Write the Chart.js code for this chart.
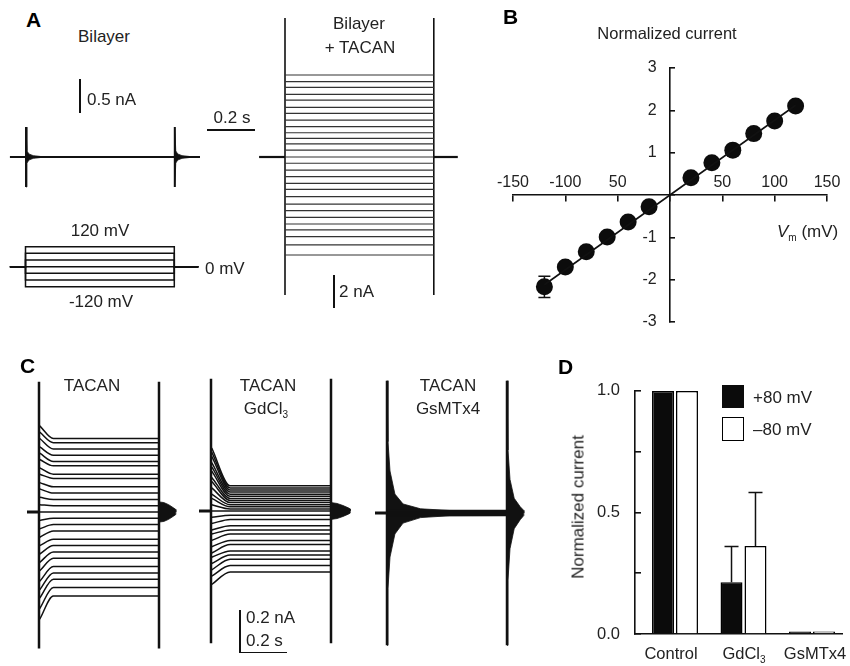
<!DOCTYPE html>
<html>
<head>
<meta charset="utf-8">
<script src="https://cdn.jsdelivr.net/npm/chart.js@4.4.1/dist/chart.umd.min.js"></script>
<style>
  body { margin: 0; background: #fff; }
  #fig { position: relative; width: 850px; height: 666px; overflow: hidden;
         font-family: "Liberation Sans", Arial, Helvetica, sans-serif; color: #222; }
  canvas { position: absolute; }
  .t { position: absolute; white-space: nowrap; font-size: 17px; line-height: 1; }
  .c { transform: translate(-50%, -50%); }
  .l { transform: translateY(-50%); }
  .p { position: absolute; font-weight: bold; font-size: 21px; color: #000; line-height: 1; transform: translateY(-50%); }
  .sb { position: absolute; background: #111; }
  sub, .sub { font-size: 10px; vertical-align: -4px; line-height: 0; }
</style>
</head>
<body>
<div id="fig">
  <canvas id="aBilayer"></canvas>
  <canvas id="aProtocol"></canvas>
  <canvas id="aTacan"></canvas>
  <canvas id="ivChart"></canvas>
  <canvas id="cTacan"></canvas>
  <canvas id="cGd"></canvas>
  <canvas id="cGs"></canvas>
  <canvas id="barChart"></canvas>

  <!-- panel A labels -->
  <div class="p" style="left:26px;top:19px">A</div>
  <div class="t c" style="left:104px;top:36px">Bilayer</div>
  <div class="sb" style="left:79px;top:79px;width:1.6px;height:34px"></div>
  <div class="t l" style="left:87px;top:99px">0.5 nA</div>
  <div class="t c" style="left:232px;top:117px">0.2 s</div>
  <div class="sb" style="left:207px;top:129px;width:48px;height:1.6px"></div>
  <div class="t c" style="left:100px;top:230px">120 mV</div>
  <div class="t l" style="left:205px;top:268px">0 mV</div>
  <div class="t c" style="left:101px;top:301px">-120 mV</div>
  <div class="t c" style="left:359px;top:23px">Bilayer</div>
  <div class="t c" style="left:360px;top:47px">+ TACAN</div>
  <div class="sb" style="left:333px;top:275px;width:1.6px;height:33px"></div>
  <div class="t l" style="left:339px;top:291px">2 nA</div>

  <!-- panel B labels -->
  <div class="p" style="left:503px;top:16px">B</div>
  <div class="t c" style="left:667px;top:33px;font-size:16.5px">Normalized current</div>
  <div class="t l" style="left:777px;top:231px;font-size:17px"><i>V</i><span class="sub">m</span> (mV)</div>

  <!-- panel C labels -->
  <div class="p" style="left:20px;top:365px">C</div>
  <div class="t c" style="left:92px;top:385px">TACAN</div>
  <div class="t c" style="left:268px;top:385px">TACAN</div>
  <div class="t c" style="left:266px;top:408px">GdCl<span class="sub">3</span></div>
  <div class="t c" style="left:448px;top:385px">TACAN</div>
  <div class="t c" style="left:448px;top:408px">GsMTx4</div>
  <div class="sb" style="left:239px;top:610px;width:1.6px;height:43px"></div>
  <div class="sb" style="left:239px;top:651.5px;width:48px;height:1.6px"></div>
  <div class="t l" style="left:246px;top:617px">0.2 nA</div>
  <div class="t l" style="left:246px;top:640px">0.2 s</div>

  <!-- panel D labels -->
  <div class="p" style="left:558px;top:366px">D</div>
  <div class="t c" style="left:578px;top:507px;font-size:17px;transform:translate(-50%,-50%) rotate(-90deg)">Normalized current</div>
  <div style="position:absolute;left:722px;top:385px;width:22px;height:23px;background:#0b0b0b"></div>
  <div style="position:absolute;left:722px;top:417px;width:22px;height:24px;box-sizing:border-box;border:1.6px solid #000;background:#fff"></div>
  <div class="t l" style="left:753px;top:397px">+80 mV</div>
  <div class="t l" style="left:753px;top:429px">&ndash;80 mV</div>
  <div class="t c" style="left:671px;top:653px;font-size:16.5px">Control</div>
  <div class="t c" style="left:744px;top:653px;font-size:16.5px">GdCl<span class="sub">3</span></div>
  <div class="t c" style="left:815px;top:653px;font-size:16.5px">GsMTx4</div>
</div>

<script>
// ---- Panel A: bilayer alone (nA vs s) ----
const pulseEndA = 0.62;
const bilayerSpike = 0.44;
const bilayerEnvT = [0, 0.004, 0.012, 0.03, 0.06];
const bilayerEnvAmp = [0.44, 0.09, 0.045, 0.02, 0.008];

// ---- Panel A: voltage protocol (mV) ----
const protocolSteps = [120, 80, 40, 0, -40, -80, -120];

// ---- Panel A: bilayer + TACAN steady currents (nA) ----
const tacanLevelsA = [4.97, 4.57, 4.22, 3.80, 3.45, 3.01, 2.65, 2.24, 1.84, 1.47, 1.13, 0.79, 0.42, 0,
  -0.38, -0.79, -1.19, -1.60, -1.96, -2.40, -2.85, -3.25, -3.66, -4.06, -4.42, -4.83, -5.33, -5.94];
const tacanSpikeA = [8.42, -8.36];

// ---- Panel B: I-V relation ----
const ivVoltage = [-120, -100, -80, -60, -40, -20, 20, 40, 60, 80, 100, 120];
const ivCurrent = [-2.17, -1.70, -1.34, -0.99, -0.64, -0.28, 0.41, 0.76, 1.06, 1.45, 1.75, 2.10];
const ivErr = [0.25, 0.10, 0.06, 0.05, 0.04, 0.03, 0.03, 0.04, 0.05, 0.06, 0.07, 0.08];
const ivFitV = [-120, 120];
const ivFitI = [-2.12, 2.12];
const bTicksX = ['-150', '-100', '50', '', '50', '100', '150'];
const bTicksY = ['-3', '-2', '-1', '', '1', '2', '3'];

// ---- Panel C: current families (nA), pulse 0.5 s ----
const pulseEndC = 0.5;
const cTacanSteady = [0.35, 0.33, 0.30, 0.27, 0.24, 0.22, 0.18, 0.16, 0.12, 0.09, 0.06, 0.03, 0,
  -0.03, -0.06, -0.09, -0.13, -0.16, -0.19, -0.22, -0.26, -0.29, -0.32, -0.36, -0.40];
const cTacanOnset = [0.41, 0.38, 0.35, 0.31, 0.28, 0.25, 0.21, 0.18, 0.14, 0.11, 0.07, 0.035, 0,
  -0.04, -0.08, -0.12, -0.16, -0.20, -0.24, -0.28, -0.33, -0.37, -0.41, -0.46, -0.51];
const cGdSteady = [0.12, 0.11, 0.10, 0.09, 0.08, 0.07, 0.06, 0.05, 0.04, 0.03, 0.02, 0.01, 0,
  -0.02, -0.04, -0.07, -0.09, -0.11, -0.14, -0.16, -0.19, -0.21, -0.23, -0.26, -0.29];
const cGdOnset = [0.30, 0.28, 0.26, 0.23, 0.21, 0.19, 0.16, 0.14, 0.11, 0.08, 0.06, 0.03, 0,
  -0.03, -0.06, -0.09, -0.11, -0.14, -0.17, -0.20, -0.22, -0.25, -0.28, -0.31, -0.35];
const cGsSteady = [0.012, 0.011, 0.010, 0.009, 0.008, 0.007, 0.006, 0.005, 0.004, 0.003, 0.002, 0.001, 0,
  -0.001, -0.002, -0.003, -0.004, -0.005, -0.006, -0.007, -0.008, -0.009, -0.010, -0.011, -0.012];
const cRelaxEnd = [0.06, 0.08, 0.06];
const cSpikeUp = [0.62, 0.63, 0.63];
const cSpikeDn = [-0.65, -0.63, -0.63];
// capacitive tails after the pulse
const cTacanTailT = [0, 0.02, 0.04, 0.06, 0.07, 0.0701];
const cTacanTailAmp = [0.048, 0.045, 0.035, 0.02, 0.012, 0];
const cGdTailT = [0, 0.025, 0.05, 0.072, 0.08, 0.0801];
const cGdTailAmp = [0.04, 0.036, 0.026, 0.015, 0.01, 0];
// GsMTx4: envelope of the capacitive transient
const gsEnvT = [0, 0.004, 0.0125, 0.033, 0.067, 0.14, 0.26, 0.5];
const gsEnvUp = [0.63, 0.34, 0.20, 0.09, 0.043, 0.02, 0.012, 0.01];
const gsEnvDn = [-0.63, -0.36, -0.21, -0.10, -0.048, -0.022, -0.013, -0.012];
const gsTailT = [0, 0.004, 0.0125, 0.03, 0.055, 0.07, 0.0701];
const gsTailUp = [0.63, 0.30, 0.16, 0.07, 0.03, 0.012, 0];
const gsTailDn = [-0.63, -0.32, -0.17, -0.075, -0.032, -0.012, 0];

// ---- Panel D: normalized current bars ----
const barGroups = ['Control', 'GdCl3', 'GsMTx4'];
const barPos80 = [1.0, 0.213, 0.01];
const barNeg80 = [1.0, 0.362, 0.01];
const errPos80 = [0, 0.147, 0];
const errNeg80 = [0, 0.22, 0];
const dTicksY = ['0.0', '', '0.5', '', '1.0'];

Chart.defaults.font.family = '"Liberation Sans", Arial, Helvetica, sans-serif';
Chart.defaults.color = '#222';

const INK = '#111';

function seg(pts, opts) {
  return Object.assign({
    data: pts.map(([x, y]) => ({ x, y })),
    borderColor: INK, borderWidth: 1.5, pointRadius: 0, fill: false, tension: 0
  }, opts || {});
}

function envelope(t0, ts, amps) {
  return seg(ts.map((t, i) => [t0 + t, amps[i]]), { fill: 'origin', backgroundColor: INK, borderWidth: 0.8 });
}

// box: canvas placement plus pixel of t=0 / I=0 and pixels per unit
function traceChart(id, box, datasets) {
  const cv = document.getElementById(id);
  cv.width = box.w; cv.height = box.h;
  cv.style.left = box.left + 'px'; cv.style.top = box.top + 'px';
  return new Chart(cv, {
    type: 'line',
    data: { datasets },
    options: {
      responsive: false, animation: false, devicePixelRatio: 1,
      layout: { padding: 0 },
      plugins: { legend: { display: false }, tooltip: { enabled: false } },
      scales: {
        x: { type: 'linear', display: false, min: -box.x0 / box.sx, max: (box.w - box.x0) / box.sx },
        y: { type: 'linear', display: false, min: -(box.h - box.y0) / box.sy, max: box.y0 / box.sy }
      }
    }
  });
}

// Panel A, bilayer only
traceChart('aBilayer', { left: 0, top: 110, w: 215, h: 95, x0: 26, y0: 47, sx: 240, sy: 68 }, [
  seg([[-0.067, 0], [0.725, 0]], { borderWidth: 2 }),
  seg([[0, bilayerSpike], [0, -bilayerSpike]], { borderWidth: 2 }),
  seg([[pulseEndA, bilayerSpike], [pulseEndA, -bilayerSpike]], { borderWidth: 2 }),
  envelope(0, bilayerEnvT, bilayerEnvAmp),
  envelope(0, bilayerEnvT, bilayerEnvAmp.map(v => -v)),
  envelope(pulseEndA, bilayerEnvT, bilayerEnvAmp),
  envelope(pulseEndA, bilayerEnvT, bilayerEnvAmp.map(v => -v))
]);

// Panel A, voltage protocol
traceChart('aProtocol', { left: 0, top: 235, w: 215, h: 65, x0: 25.5, y0: 31.7, sx: 240, sy: 20 / 120 },
  protocolSteps.map(v => seg([[-0.065, 0], [0, 0], [0, v], [pulseEndA, v], [pulseEndA, 0], [0.72, 0]], { borderWidth: 1.5 }))
);

// Panel A, bilayer + TACAN
traceChart('aTacan', { left: 250, top: 10, w: 215, h: 295, x0: 35, y0: 147, sx: 240, sy: 16.5 }, [
  seg([[-0.108, 0], [0, 0]], { borderWidth: 2.2 }),
  seg([[pulseEndA, 0], [0.72, 0]], { borderWidth: 2.2 }),
  ...tacanLevelsA.map(v => seg([[0, v], [pulseEndA, v]], { borderColor: '#333', borderWidth: 1.2 })),
  seg([[0, tacanSpikeA[0]], [0, tacanSpikeA[1]]], { borderWidth: 1.6 }),
  seg([[pulseEndA, tacanSpikeA[0]], [pulseEndA, tacanSpikeA[1]]], { borderWidth: 1.6 })
]);

// Panel C families
function cFamily(k, steady, onset, extra) {
  const sets = [seg([[-0.05, 0], [0, 0]], { borderWidth: 3 })];
  steady.forEach((v, i) => sets.push(seg([[0.003, onset[i]], [cRelaxEnd[k], v], [pulseEndC, v]],
    { borderWidth: 1.5, cubicInterpolationMode: 'monotone' })));
  sets.push(...extra);
  sets.push(seg([[0, cSpikeUp[k]], [0, cSpikeDn[k]]], { borderWidth: 2.5 }));
  sets.push(seg([[pulseEndC, cSpikeUp[k]], [pulseEndC, cSpikeDn[k]]], { borderWidth: 2.5 }));
  return sets;
}

traceChart('cTacan', { left: 15, top: 370, w: 175, h: 290, x0: 24, y0: 142, sx: 240, sy: 210 },
  cFamily(0, cTacanSteady, cTacanOnset, [
    envelope(pulseEndC, cTacanTailT, cTacanTailAmp),
    envelope(pulseEndC, cTacanTailT, cTacanTailAmp.map(v => -v))
  ]));

traceChart('cGd', { left: 190, top: 370, w: 175, h: 290, x0: 21, y0: 141, sx: 240, sy: 210 },
  cFamily(1, cGdSteady, cGdOnset, [
    envelope(pulseEndC, cGdTailT, cGdTailAmp),
    envelope(pulseEndC, cGdTailT, cGdTailAmp.map(v => -v))
  ]));

traceChart('cGs', { left: 365, top: 370, w: 185, h: 290, x0: 22, y0: 143, sx: 240, sy: 210 },
  cFamily(2, cGsSteady, cGsSteady, [
    envelope(0, gsEnvT, gsEnvUp),
    envelope(0, gsEnvT, gsEnvDn),
    envelope(pulseEndC, gsTailT, gsTailUp),
    envelope(pulseEndC, gsTailT, gsTailDn)
  ]));

// Panel B: I-V plot with axes crossing at the origin
const ivErrorBars = {
  id: 'ivErrorBars',
  beforeDatasetsDraw(chart) {
    const { ctx, scales: { x, y } } = chart;
    ctx.save();
    ctx.strokeStyle = INK;
    ctx.lineWidth = 1.5;
    ivVoltage.forEach((v, i) => {
      const px = x.getPixelForValue(v);
      const lo = y.getPixelForValue(ivCurrent[i] - ivErr[i]);
      const hi = y.getPixelForValue(ivCurrent[i] + ivErr[i]);
      ctx.beginPath();
      ctx.moveTo(px, lo); ctx.lineTo(px, hi);
      ctx.moveTo(px - 6, lo); ctx.lineTo(px + 6, lo);
      ctx.moveTo(px - 6, hi); ctx.lineTo(px + 6, hi);
      ctx.stroke();
    });
    ctx.restore();
  }
};

(function () {
  const cv = document.getElementById('ivChart');
  cv.width = 380; cv.height = 340;
  cv.style.left = '470px'; cv.style.top = '0px';
  new Chart(cv, {
    type: 'scatter',
    data: {
      datasets: [
        { data: ivFitV.map((v, i) => ({ x: v, y: ivFitI[i] })), showLine: true, borderColor: INK, borderWidth: 1.6, pointRadius: 0 },
        { data: ivVoltage.map((v, i) => ({ x: v, y: ivCurrent[i] })), showLine: false, pointRadius: 8.5,
          pointBackgroundColor: '#0c0c0c', pointBorderColor: '#0c0c0c', pointBorderWidth: 0 }
      ]
    },
    options: {
      responsive: false, animation: false, devicePixelRatio: 1,
      layout: { padding: { left: 43, right: 23, top: 68, bottom: 18 } },
      plugins: { legend: { display: false }, tooltip: { enabled: false } },
      scales: {
        x: {
          type: 'linear', min: -150, max: 150, position: { y: 0 },
          border: { display: true, color: INK, width: 1.6 },
          grid: { display: true, drawOnChartArea: false, drawTicks: true, tickLength: 6, color: INK, lineWidth: 1.6 },
          ticks: { stepSize: 50, autoSkip: false, maxRotation: 0, padding: -28, font: { size: 16 }, color: '#222',
            callback: (v, i) => bTicksX[i] }
        },
        y: {
          type: 'linear', min: -3, max: 3, position: { x: 0 },
          border: { display: true, color: INK, width: 1.6 },
          grid: { display: true, drawOnChartArea: false, drawTicks: true, tickLength: -6, color: INK, lineWidth: 1.6 },
          ticks: { stepSize: 1, autoSkip: false, padding: 0, font: { size: 16 }, color: '#222',
            callback: (v, i) => bTicksY[i] ? bTicksY[i] + '   ' : '' }
        }
      }
    },
    plugins: [ivErrorBars]
  });
})();

// Panel D: bar chart with upward error bars
const barErrors = {
  id: 'barErrors',
  afterDatasetsDraw(chart) {
    const { ctx, scales: { y } } = chart;
    const vals = [barPos80, barNeg80];
    const errs = [errPos80, errNeg80];
    ctx.save();
    ctx.strokeStyle = INK;
    ctx.lineWidth = 1.5;
    vals.forEach((series, d) => {
      chart.getDatasetMeta(d).data.forEach((bar, j) => {
        if (!errs[d][j]) return;
        const y0 = y.getPixelForValue(series[j]);
        const y1 = y.getPixelForValue(series[j] + errs[d][j]);
        ctx.beginPath();
        ctx.moveTo(bar.x, y0); ctx.lineTo(bar.x, y1);
        ctx.moveTo(bar.x - 7, y1); ctx.lineTo(bar.x + 7, y1);
        ctx.stroke();
      });
    });
    ctx.restore();
  }
};

(function () {
  const cv = document.getElementById('barChart');
  cv.width = 290; cv.height = 306;
  cv.style.left = '560px'; cv.style.top = '360px';
  new Chart(cv, {
    type: 'bar',
    data: {
      datasets: [
        { label: '+80 mV', data: barPos80.map((v, i) => ({ x: i, y: v })), backgroundColor: '#0b0b0b', borderColor: '#000', borderWidth: 1.5 },
        { label: '\u201380 mV', data: barNeg80.map((v, i) => ({ x: i, y: v })), backgroundColor: '#fff', borderColor: '#000', borderWidth: 1.5 }
      ]
    },
    options: {
      responsive: false, animation: false, devicePixelRatio: 1,
      categoryPercentage: 0.70, barPercentage: 0.917,
      layout: { padding: { left: 35, right: 8, top: 21, bottom: 32 } },
      plugins: { legend: { display: false }, tooltip: { enabled: false } },
      scales: {
        x: {
          type: 'linear', min: -0.584, max: 2.438, offset: false,
          ticks: { display: false, includeBounds: false, stepSize: 1 },
          grid: { display: false, offset: false },
          border: { display: true, color: INK, width: 1.6 },
          afterFit: s => { s.height = 0; }
        },
        y: {
          min: 0, max: 1,
          ticks: { stepSize: 0.25, autoSkip: false, padding: 21, font: { size: 16.5 }, color: '#222',
            callback: (v, i) => dTicksY[i] },
          grid: { display: true, drawOnChartArea: false, drawTicks: true, tickLength: -6, color: INK, lineWidth: 1.6 },
          border: { display: true, color: INK, width: 1.6 },
          afterFit: s => { s.width = 40; }
        }
      }
    },
    plugins: [barErrors]
  });
})();
</script>
</body>
</html>
